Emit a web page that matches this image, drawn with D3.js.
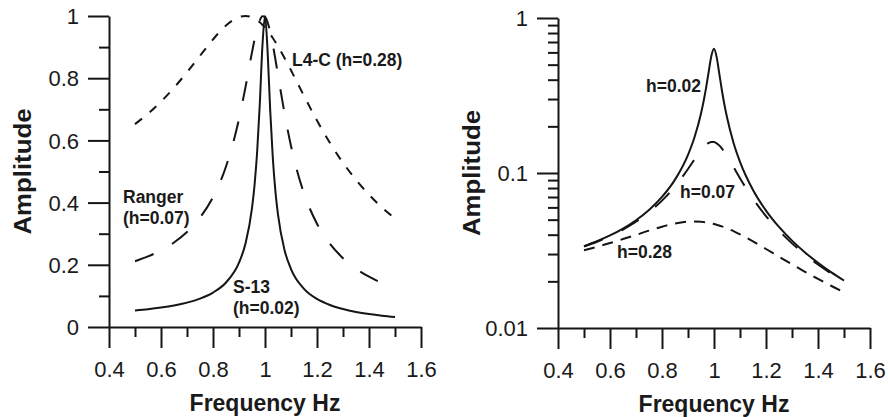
<!DOCTYPE html>
<html>
<head>
<meta charset="utf-8">
<script src="https://cdn.jsdelivr.net/npm/d3@7"></script>
<style>
  html, body { margin: 0; padding: 0; background: #fff; }
  svg { display: block; }
  text { font-family: "Liberation Sans", Arial, Helvetica, sans-serif; fill: #1a1a1a; }
  .axis .tick line, .axis .domain { stroke: #151515; stroke-width: 2px; }
</style>
</head>
<body>
<svg id="chart" width="888" height="417" viewBox="0 0 888 417"></svg>
<script>
// Frequency samples (Hz), denser around the resonance at 1 Hz
const freq = [0.5, 0.55, 0.6, 0.65, 0.7, 0.75, 0.8, 0.85, 0.9, 0.925, 0.95, 0.96, 0.97, 0.98, 0.99,
  1.0, 1.01, 1.02, 1.03, 1.04, 1.05, 1.075, 1.1, 1.15, 1.2, 1.25, 1.3, 1.35, 1.4, 1.45, 1.5];

// Normalised amplitude (left panel)
const s13Norm = [0.0533, 0.0573, 0.0625, 0.0692, 0.0783, 0.0912, 0.1107, 0.1431, 0.2068, 0.2684, 0.3823, 0.4582, 0.5658, 0.7179, 0.9026,
  1.0, 0.8864, 0.6966, 0.5440, 0.4367, 0.3611, 0.2477, 0.1864, 0.1228, 0.0904, 0.0708, 0.0578, 0.0485, 0.0416, 0.0362, 0.0320];
const rangerNorm = [0.2115, 0.2269, 0.2464, 0.2718, 0.3055, 0.3516, 0.4174, 0.5161, 0.6690, 0.7714, 0.8833, 0.9248, 0.9604, 0.9862, 0.9990,
  0.9968, 0.9794, 0.9486, 0.9078, 0.8606, 0.8104, 0.6876, 0.5821, 0.4295, 0.3322, 0.2671, 0.2213, 0.1875, 0.1618, 0.1416, 0.1253];
const l4cNorm = [0.6523, 0.6859, 0.7248, 0.7694, 0.8191, 0.8721, 0.9246, 0.9694, 0.9964, 1.0, 0.9957, 0.9917, 0.9864, 0.9798, 0.9719,
  0.9629, 0.9527, 0.9415, 0.9293, 0.9162, 0.9024, 0.8651, 0.8253, 0.7431, 0.6638, 0.5917, 0.5282, 0.4731, 0.4255, 0.3845, 0.3491];

// Absolute amplitude (right panel, log scale)
const amp002 = [0.03376, 0.03630, 0.03955, 0.04382, 0.04959, 0.05776, 0.07009, 0.09060, 0.1310, 0.1700, 0.2421, 0.2902, 0.3583, 0.4546, 0.5716,
  0.6333, 0.5613, 0.4411, 0.3445, 0.2766, 0.2287, 0.1569, 0.1181, 0.07776, 0.05723, 0.04486, 0.03661, 0.03073, 0.02634, 0.02294, 0.02024];
const amp007 = [0.03358, 0.03603, 0.03914, 0.04317, 0.04851, 0.05584, 0.06630, 0.08197, 0.1062, 0.1225, 0.1403, 0.1469, 0.1525, 0.1566, 0.1587,
  0.1583, 0.1555, 0.1507, 0.1442, 0.1367, 0.1287, 0.1092, 0.09244, 0.06822, 0.05276, 0.04243, 0.03515, 0.02979, 0.02569, 0.02248, 0.01990];
const amp028 = [0.03178, 0.03341, 0.03531, 0.03748, 0.03990, 0.04249, 0.04504, 0.04722, 0.04854, 0.04872, 0.04851, 0.04831, 0.04805, 0.04773, 0.04735,
  0.04691, 0.04641, 0.04587, 0.04527, 0.04463, 0.04396, 0.04215, 0.04020, 0.03620, 0.03234, 0.02883, 0.02573, 0.02305, 0.02073, 0.01873, 0.01701];

// Tick values
const xMajor = [0.4, 0.6, 0.8, 1, 1.2, 1.4, 1.6];
const xMinor = [0.5, 0.7, 0.9, 1.1, 1.3, 1.5];
const yLinMajor = [0, 0.2, 0.4, 0.6, 0.8, 1];
const yLinMinor = [0.1, 0.3, 0.5, 0.7, 0.9];
const yLogMajor = [0.01, 0.1, 1];
const yLogMinor = [0.02, 0.03, 0.04, 0.05, 0.06, 0.07, 0.08, 0.09, 0.2, 0.3, 0.4, 0.5, 0.6, 0.7, 0.8, 0.9];

const svg = d3.select("#chart");
const INK = "#151515";

const leftX = d3.scaleLinear().domain([0.4, 1.6]).range([109, 421]);
const leftY = d3.scaleLinear().domain([0, 1]).range([327, 16]);
const rightX = d3.scaleLinear().domain([0.4, 1.6]).range([558, 870]);
const rightY = d3.scaleLog().domain([0.01, 1]).range([328, 18]);

function drawCurve(x, y, values, dash) {
  const line = d3.line().x((d, i) => x(freq[i])).y(d => y(d)).curve(d3.curveMonotoneX);
  svg.append("path").datum(values)
    .attr("d", line)
    .attr("fill", "none").attr("stroke", INK).attr("stroke-width", 2)
    .attr("stroke-dasharray", dash);
}

// Axes: outward major ticks (21px) with labels, minor ticks (10px) without
function drawAxes(x, y, yMajor, yMinor) {
  const y0 = y.range()[0];
  const x0 = x.range()[0];
  const fmt = d => String(d);

  const bx = svg.append("g").attr("class", "axis").attr("transform", `translate(0,${y0})`);
  bx.append("g").call(d3.axisBottom(x).tickValues(xMinor).tickSizeInner(10).tickSizeOuter(0).tickFormat(""))
    .call(g => g.select(".domain").remove());
  bx.append("g").call(d3.axisBottom(x).tickValues(xMajor).tickSizeInner(21).tickSizeOuter(0).tickPadding(13).tickFormat(fmt))
    .call(g => g.selectAll("text").attr("font-size", 22).attr("font-family", null).attr("fill", INK).attr("dy", "0.71em"))
    .attr("font-family", null).attr("font-size", null);

  const ly = svg.append("g").attr("class", "axis").attr("transform", `translate(${x0},0)`);
  ly.append("g").call(d3.axisLeft(y).tickValues(yMinor).tickSizeInner(10).tickSizeOuter(0).tickFormat(""))
    .call(g => g.select(".domain").remove());
  ly.append("g").call(d3.axisLeft(y).tickValues(yMajor).tickSizeInner(21).tickSizeOuter(0).tickPadding(9).tickFormat(fmt))
    .call(g => g.selectAll("text").attr("font-size", 22).attr("fill", INK).attr("dy", "0.35em"))
    .attr("font-family", null).attr("font-size", null);
}

function drawTitles(x, y, yTitleX, xTitleY) {
  const cx = (x.range()[0] + x.range()[1]) / 2;
  const cy = (y.range()[0] + y.range()[1]) / 2;
  svg.append("text").attr("x", cx).attr("y", xTitleY).attr("text-anchor", "middle")
    .attr("font-size", 23).attr("font-weight", "bold").text("Frequency Hz");
  svg.append("text").attr("transform", `translate(${yTitleX},${cy}) rotate(-90)`).attr("text-anchor", "middle")
    .attr("font-size", 23).attr("font-weight", "bold")
    .attr("textLength", 126).attr("lengthAdjust", "spacingAndGlyphs")
    .text("Amplitude");
}

function label(lines, x, y) {
  const t = svg.append("text").attr("font-size", 17.5).attr("font-weight", "bold");
  lines.forEach((s, i) => t.append("tspan").attr("x", x).attr("y", y + i * 21).text(s));
}

// Left panel: normalised response
drawCurve(leftX, leftY, l4cNorm, "9,10");
drawCurve(leftX, leftY, rangerNorm, "20,21");
drawCurve(leftX, leftY, s13Norm, null);
drawTitles(leftX, leftY, 31, 411);
label(["L4-C (h=0.28)"], 292, 66);
label(["Ranger", "(h=0.07)"], 123, 203);
label(["S-13", "(h=0.02)"], 233, 293);

// Right panel: absolute response on a log scale
drawCurve(rightX, rightY, amp028, "11,8");
drawCurve(rightX, rightY, amp007, "20,21");
drawCurve(rightX, rightY, amp002, null);
drawTitles(rightX, rightY, 480, 412);
label(["h=0.02"], 646, 92);
label(["h=0.07"], 680, 198);
label(["h=0.28"], 617, 258);

// Axes drawn last so ticks sit on top
drawAxes(leftX, leftY, yLinMajor, yLinMinor);
drawAxes(rightX, rightY, yLogMajor, yLogMinor);
</script>
</body>
</html>
